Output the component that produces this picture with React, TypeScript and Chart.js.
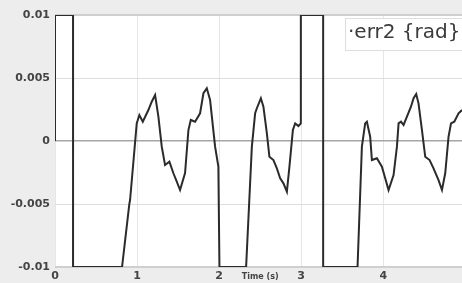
import React, { useEffect, useRef } from "react";
import { Chart, registerables } from "chart.js";

Chart.register(...registerables);

const timeS: number[] = [
  0, 0, 0.22, 0.22, 0.817, 0.906, 0.915, 0.996, 1.028, 1.07, 1.138, 1.179, 1.22, 1.26, 1.301,
  1.341, 1.394, 1.443, 1.484, 1.524, 1.585, 1.626, 1.655, 1.707, 1.768, 1.809, 1.85, 1.89,
  1.951, 1.991, 2.004, 2.329, 2.399, 2.439, 2.46, 2.509, 2.54, 2.582, 2.613, 2.662, 2.704,
  2.744, 2.784, 2.826, 2.857, 2.899, 2.927, 2.967, 2.996, 2.996, 3.268, 3.268, 3.687, 3.74,
  3.78, 3.801, 3.841, 3.862, 3.923, 3.984, 4.065, 4.126, 4.167, 4.187, 4.216, 4.248, 4.289,
  4.338, 4.37, 4.402, 4.43, 4.472, 4.512, 4.565, 4.613, 4.674, 4.716, 4.756, 4.796, 4.826,
  4.866, 4.918, 4.96,
];

const err2Rad: number[] = [
  0, 0.01, 0.01, -0.01, -0.01, -0.005, -0.00468, 0.0014, 0.00206, 0.00153, 0.00246, 0.00312,
  0.00365, 0.00193, -0.00045, -0.0019, -0.00164, -0.00256, -0.00323, -0.00389, -0.00254,
  0.00087, 0.00167, 0.00153, 0.0022, 0.00379, 0.00418, 0.00325, -0.00045, -0.00204, -0.01,
  -0.01, -0.00045, 0.0022, 0.0026, 0.00339, 0.00272, 0.00061, -0.00125, -0.00151, -0.00217,
  -0.00296, -0.00336, -0.00402, -0.00204, 0.00087, 0.0014, 0.00119, 0.0014, 0.01, 0.01, -0.01,
  -0.01, -0.00045, 0.0014, 0.00153, 0.00034, -0.00151, -0.00137, -0.00204, -0.00389, -0.0027,
  -0.00045, 0.0014, 0.00153, 0.00127, 0.00193, 0.00272, 0.00339, 0.00373, 0.00299, 0.00087,
  -0.00125, -0.00151, -0.00217, -0.0031, -0.00389, -0.00254, 0.00034, 0.0014, 0.00153, 0.0022,
  0.00246,
];

const xTickValues: number[] = [0, 1, 2, 3, 4];
const xTickLabels: string[] = ["0", "1", "2", "3", "4"];
const yTickValues: number[] = [-0.01, -0.005, 0, 0.005, 0.01];
const yTickLabels: string[] = ["-0.01", "-0.005", "0", "0.005", "0.01"];
const seriesLabel = "·err2 {rad}";
const xAxisTitle = "Time (s)";

const bgPlugin = {
  id: "bgPlugin",
  beforeDraw(chart: any) {
    const { ctx, chartArea, width, height } = chart;
    ctx.save();
    ctx.fillStyle = "#ededed";
    ctx.fillRect(0, 0, width, height);
    ctx.fillStyle = "#ffffff";
    ctx.fillRect(chartArea.left, chartArea.top, chartArea.right - chartArea.left, chartArea.bottom - chartArea.top);
    ctx.restore();
  },
  afterDraw(chart: any) {
    const { ctx, chartArea, scales } = chart;
    ctx.save();
    const bx = 345;
    const by = chartArea.top + 3;
    ctx.fillStyle = "#ffffff";
    ctx.fillRect(bx, by, chart.width - bx + 2, 32);
    ctx.strokeStyle = "#dddddd";
    ctx.lineWidth = 1;
    ctx.strokeRect(bx + 0.5, by + 0.5, chart.width - bx + 2, 32);
    ctx.fillStyle = "#3a3a3a";
    ctx.font = "20px 'DejaVu Sans'";
    ctx.textAlign = "left";
    ctx.textBaseline = "alphabetic";
    ctx.fillText(seriesLabel, 348, by + 20);
    const xs = scales.x;
    const tx = (xs.getPixelForValue(2) + xs.getPixelForValue(3)) / 2;
    ctx.font = "bold 8px 'DejaVu Sans'";
    ctx.fillStyle = "#444444";
    ctx.textAlign = "center";
    ctx.textBaseline = "middle";
    ctx.fillText(xAxisTitle, tx, chartArea.bottom + 10);
    ctx.restore();
  },
};

export default function App() {
  const ref = useRef<HTMLCanvasElement | null>(null);
  useEffect(() => {
    if (!ref.current) return;
    const data = timeS.map((t, i) => ({ x: t, y: err2Rad[i] }));
    const chart = new Chart(ref.current, {
      type: "line",
      data: {
        datasets: [
          {
            label: seriesLabel,
            data,
            borderColor: "#2b2b2b",
            borderWidth: 2,
            pointRadius: 0,
            tension: 0,
            fill: false,
          },
        ],
      },
      options: {
        animation: false,
        responsive: false,
        devicePixelRatio: 1,
        layout: { padding: { top: 15, left: 0, right: 0, bottom: 0 } },
        plugins: { legend: { display: false }, tooltip: { enabled: false } },
        scales: {
          x: {
            type: "linear",
            min: 0,
            max: 4.96,
            afterBuildTicks: (s: any) => {
              s.ticks = xTickValues.map((v) => ({ value: v }));
            },
            afterFit: (s: any) => {
              s.height = 16;
            },
            ticks: {
              padding: 3,
              color: "#444444",
              font: { family: "'DejaVu Sans'", size: 11, weight: "bold" },
              maxRotation: 0,
              callback: (v: any) => {
                const i = xTickValues.indexOf(Number(v));
                return i >= 0 ? xTickLabels[i] : "";
              },
            },
            grid: { color: "#e6e6e6", lineWidth: 1, drawTicks: false },
            border: { display: false },
          },
          y: {
            type: "linear",
            min: -0.01,
            max: 0.01,
            afterBuildTicks: (s: any) => {
              s.ticks = yTickValues.map((v) => ({ value: v }));
            },
            afterFit: (s: any) => {
              s.width = 55;
            },
            ticks: {
              padding: 5,
              color: "#444444",
              font: { family: "'DejaVu Sans'", size: 11, weight: "bold" },
              callback: (v: any) => {
                const i = yTickValues.findIndex((t) => Math.abs(t - Number(v)) < 1e-9);
                return i >= 0 ? yTickLabels[i] : "";
              },
            },
            grid: {
              drawTicks: false,
              color: (c: any) => {
                const v = c.tick ? c.tick.value : 0;
                if (Math.abs(v) < 1e-9) return "#a6a6a6";
                if (Math.abs(Math.abs(v) - 0.01) < 1e-9) return "#cfcfcf";
                return "#dddddd";
              },
              lineWidth: (c: any) => {
                const v = c.tick ? c.tick.value : 0;
                if (Math.abs(v) < 1e-9) return 1.5;
                if (Math.abs(Math.abs(v) - 0.01) < 1e-9) return 2;
                return 1;
              },
            },
            border: { display: false },
          },
        },
      },
      plugins: [bgPlugin],
    } as any);
    return () => chart.destroy();
  }, []);
  return (
    <div style={{ position: "fixed", left: 0, top: 0, width: 462, height: 283 }}>
      <canvas ref={ref} width={462} height={283} style={{ display: "block" }} />
    </div>
  );
}
